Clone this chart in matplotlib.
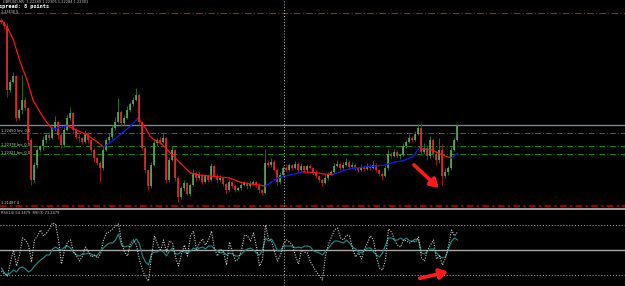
import numpy as np
import matplotlib
matplotlib.use("Agg")
import matplotlib.pyplot as plt

# candle closes (open = previous close), price units
first_open = 1.2334
closes = [1.2332, 1.2328, 1.2264, 1.2272, 1.2278, 1.2236, 1.2244, 1.2254, 1.2246, 1.2214,
          1.2174, 1.2189, 1.2204, 1.2208, 1.2214, 1.2219, 1.2216, 1.2226, 1.2232, 1.2219,
          1.2209, 1.2224, 1.2236, 1.2241, 1.2224, 1.2217, 1.2216, 1.2212, 1.2220, 1.2214,
          1.2204, 1.2196, 1.2191, 1.2186, 1.2204, 1.2214, 1.2217, 1.2226, 1.2232, 1.2242,
          1.2231, 1.2236, 1.2244, 1.2250, 1.2254, 1.2259, 1.2232, 1.2206, 1.2184, 1.2168,
          1.2189, 1.2211, 1.2214, 1.2212, 1.2216, 1.2174, 1.2194, 1.2204, 1.2176, 1.2157,
          1.2166, 1.2171, 1.2160, 1.2169, 1.2181, 1.2176, 1.2179, 1.2172, 1.2178, 1.2174,
          1.2188, 1.2178, 1.2174, 1.2176, 1.2170, 1.2164, 1.2172, 1.2168, 1.2164, 1.2166,
          1.2169, 1.2171, 1.2168, 1.2170, 1.2172, 1.2169, 1.2164, 1.2161, 1.2191, 1.2189,
          1.2192, 1.2184, 1.2172, 1.2179, 1.2186, 1.2184, 1.2189, 1.2186, 1.2190, 1.2184,
          1.2188, 1.2184, 1.2188, 1.2186, 1.2182, 1.2178, 1.2174, 1.2171, 1.2176, 1.2180,
          1.2182, 1.2188, 1.2190, 1.2186, 1.2189, 1.2192, 1.2187, 1.2189, 1.2186, 1.2184,
          1.2187, 1.2185, 1.2188, 1.2186, 1.2189, 1.2184, 1.2180, 1.2178, 1.2186, 1.2200,
          1.2198, 1.2202, 1.2198, 1.2199, 1.2208, 1.2212, 1.2216, 1.2214, 1.2220, 1.2226,
          1.2202, 1.2206, 1.2198, 1.2214, 1.2200, 1.2194, 1.2204, 1.2178, 1.2182, 1.2186,
          1.2204, 1.2214, 1.2228]
# wick length beyond the body, in pips
wick_up = [2, 1, 3, 2, 4, 1, 2, 25, 3, 1,
           2, 3, 2, 1, 4, 2, 3, 2, 6, 1,
           2, 3, 4, 6, 1, 2, 3, 1, 4, 2,
           1, 2, 1, 2, 3, 2, 4, 3, 5, 14,
           2, 3, 4, 2, 3, 7, 2, 1, 2, 1,
           3, 4, 2, 3, 5, 1, 3, 4, 1, 2,
           2, 3, 1, 2, 4, 2, 3, 1, 2, 2,
           3, 1, 2, 3, 1, 2, 2, 1, 2, 1,
           2, 2, 1, 3, 2, 1, 2, 1, 14, 3,
           4, 2, 1, 3, 2, 4, 2, 1, 3, 2,
           3, 1, 2, 2, 1, 2, 1, 2, 3, 2,
           2, 3, 4, 2, 3, 4, 2, 3, 2, 1,
           3, 2, 3, 2, 4, 2, 1, 2, 3, 5,
           2, 3, 2, 1, 3, 2, 4, 2, 3, 4,
           6, 5, 3, 4, 2, 3, 12, 6, 4, 2,
           3, 2, 2]
wick_dn = [2, 3, 7, 2, 1, 3, 2, 4, 2, 3,
           5, 2, 3, 2, 4, 3, 2, 1, 3, 4,
           3, 2, 1, 2, 3, 2, 4, 2, 1, 3,
           2, 3, 2, 14, 2, 1, 3, 2, 2, 1,
           3, 2, 1, 2, 2, 1, 3, 2, 3, 4,
           2, 1, 3, 2, 1, 3, 2, 1, 3, 5,
           2, 3, 1, 2, 1, 3, 2, 2, 1, 2,
           1, 2, 3, 1, 2, 3, 1, 2, 2, 1,
           2, 1, 3, 2, 1, 2, 3, 2, 1, 2,
           2, 1, 3, 2, 1, 2, 1, 2, 1, 2,
           1, 2, 2, 1, 3, 2, 2, 3, 1, 2,
           1, 2, 1, 2, 2, 1, 2, 1, 2, 2,
           1, 2, 1, 2, 1, 2, 2, 4, 1, 2,
           2, 1, 2, 3, 1, 2, 1, 2, 1, 1,
           3, 2, 4, 2, 3, 5, 3, 9, 2, 3,
           2, 1, 1]

# moving average (bar index, price)
ma_bar = [0, 2, 4, 6, 8.5, 10.5, 13, 15, 17, 19.5, 22, 25, 28.5, 32, 34, 36, 39.5, 43, 45.5,
          48, 49.5, 51, 53, 56, 59.5, 63, 66, 69.5, 73, 76, 79.5, 83, 86, 88, 92, 96, 100.5,
          104.5, 107.5, 110.5, 114.5, 118, 124.5, 128, 131, 133.5, 137, 139.5, 140, 143.5,
          147, 150, 152]
ma_val = [1.2334, 1.2326, 1.2314, 1.2294, 1.2274, 1.2254, 1.2241, 1.2232, 1.2225, 1.22265,
          1.2228, 1.2224, 1.2219, 1.2212, 1.2207, 1.2211, 1.2219, 1.2228, 1.2236, 1.2226,
          1.2218, 1.2214, 1.2211, 1.2202, 1.2191, 1.2181, 1.2179, 1.2178, 1.2177, 1.2176,
          1.2172, 1.2170, 1.2169, 1.2168, 1.2176, 1.2179, 1.2182, 1.21815, 1.2180, 1.21795,
          1.2184, 1.2186, 1.2188, 1.2189, 1.2192, 1.2193, 1.2197, 1.2207, 1.2205, 1.2204,
          1.2199, 1.2196, 1.2201]

# oscillators, one value per bar
rsi_fast = [29, 26, 24, 38, 50, 34, 45, 62, 60, 55, 38, 60, 64, 70, 64, 67, 71, 77, 76, 60,
            36, 50, 58, 60, 48, 44, 39, 44, 53, 48, 43, 45, 42, 46, 60, 67, 68, 71, 74, 76,
            58, 48, 44, 57, 60, 55, 40, 30, 23, 19, 44, 64, 56, 49, 60, 48, 59, 57, 43, 34,
            46, 55, 44, 64, 69, 50, 57, 61, 55, 60, 69, 51, 44, 51, 48, 35, 58, 48, 39, 41,
            50, 65, 64, 59, 67, 53, 34, 40, 75, 61, 59, 48, 39, 45, 56, 60, 58, 55, 44, 36,
            50, 48, 47, 38, 33, 28, 24, 20, 44, 56, 63, 70, 72, 62, 60, 65, 64, 52, 43, 47,
            41, 51, 57, 64, 60, 43, 32, 30, 40, 71, 68, 60, 55, 53, 60, 59, 57, 59, 58, 63,
            42, 39, 50, 55, 60, 41, 44, 35, 42, 54, 70, 64, 68]
rsi_slow = [32, 27, 25, 27, 30, 28, 32, 33, 31, 28, 30, 34, 37, 40, 42, 45, 45, 51, 53, 51,
            50, 53, 54, 52, 48, 45, 44, 46, 46, 47, 46, 44, 45, 49, 52, 55, 57, 57, 60, 66,
            55, 53, 54, 53, 58, 61, 56, 44, 38, 35, 46, 48, 48, 50, 48, 44, 49, 52, 46, 46,
            49, 48, 47, 49, 52, 50, 52, 53, 51, 54, 54, 51, 49, 47, 48, 45, 47, 46, 44, 44,
            46, 49, 51, 52, 50, 47, 45, 50, 62, 59, 61, 56, 49, 49, 54, 54, 54, 54, 52, 53,
            52, 54, 54, 53, 49, 48, 47, 45, 49, 52, 56, 59, 59, 58, 57, 60, 57, 53, 51, 48,
            47, 50, 52, 52, 48, 45, 43, 47, 55, 62, 62, 60, 60, 62, 60, 62, 59, 59, 61, 60,
            47, 46, 49, 51, 51, 47, 44, 42, 43, 51, 59, 62, 60]

levels_main = {"top": 1.2341, "gray": 1.22295, "g1": 1.22207, "g2": 1.2208, "g3": 1.21997,
               "bottom": 1.21483}
rsi_levels = [75, 50, 25]
vline_bar = 94.2
arrow_main = [(136.8, 1.2191), (146.5, 1.2164)]
arrow_ind = [(138.5, 21), (149.8, 29)]

W, H = 625, 286
fig = plt.figure(figsize=(W / 100, H / 100), dpi=100, facecolor="black")
ax = fig.add_axes([0, 77 / H, 1, 209 / H], facecolor="black")
ax2 = fig.add_axes([0, 0, 1, 76 / H], facecolor="black")

n = len(closes)
x = np.arange(n)
c = np.array(closes)
o = np.concatenate([[first_open], c[:-1]])
hi = np.maximum(o, c) + np.array(wick_up) * 0.0001
lo = np.minimum(o, c) - np.array(wick_dn) * 0.0001
bull = c >= o

# horizontal levels
ax.axhline(levels_main["top"], color="#d01010", lw=0.8, ls=(0, (6, 2, 1, 2)))
ax.axhline(levels_main["bottom"], color="#9b0000", lw=1.6, ls=(0, (3, 1.5, 1, 1.5)))
ax.axhline(levels_main["gray"], color="#7a8896", lw=1.0)
for k in ["g1", "g2", "g3"]:
    ax.axhline(levels_main[k], color="#0a8a0a", lw=0.7, ls=(0, (6, 2, 1, 2)))

# candles
ax.vlines(x[bull], lo[bull], hi[bull], color="#1f6e1f", lw=0.7)
ax.vlines(x[~bull], lo[~bull], hi[~bull], color="#a01414", lw=0.7)
body_lo = np.minimum(o, c)
body_hi = np.maximum(np.maximum(o, c), body_lo + 0.00008)
ax.vlines(x[bull], body_lo[bull], body_hi[bull], color="#5cb85c", lw=1.1)
ax.vlines(x[~bull], body_lo[~bull], body_hi[~bull], color="#ff2a2a", lw=1.1)

# moving average, blue when rising
for i in range(len(ma_bar) - 1):
    col = "#0a1aff" if ma_val[i + 1] > ma_val[i] else "#ff1010"
    ax.plot(ma_bar[i:i + 2], ma_val[i:i + 2], color=col, lw=0.9, solid_capstyle="round")

# oscillator panel
ax2.axhline(rsi_levels[0], color="#b4b4b4", lw=0.7, ls=(0, (1, 2)))
ax2.axhline(rsi_levels[1], color="#a8a8a8", lw=1.0)
ax2.axhline(rsi_levels[2], color="#b4b4b4", lw=0.7, ls=(0, (1, 2)))
ax2.plot(x, rsi_slow, color="#1f8c8c", lw=0.8)
ax2.plot(x, rsi_fast, color="#d0d0d0", lw=0.8, ls=(0, (1, 1.3)))

for a in (ax, ax2):
    a.axvline(vline_bar, color="#c8c8c8", lw=0.7, ls=(0, (1, 2)))
    a.set_xlim(-0.5, (W - 1.5) / 3)
    a.set_xticks([])
    a.set_yticks([])
    for s in a.spines.values():
        s.set_visible(False)
ax.set_ylim(1.2145, 1.2354)
ax2.set_ylim(14, 90)
ax.spines["bottom"].set_visible(True)
ax.spines["bottom"].set_color("#a0a0a0")
ax.spines["bottom"].set_linewidth(1.4)

# arrows
ax.annotate("", xy=arrow_main[1], xytext=arrow_main[0],
            arrowprops=dict(arrowstyle="-|>,head_length=0.5,head_width=0.3", color="#ff1a1a", lw=2.6))
ax2.annotate("", xy=arrow_ind[1], xytext=arrow_ind[0],
             arrowprops=dict(arrowstyle="-|>,head_length=0.5,head_width=0.3", color="#ff1a1a", lw=2.6),
             annotation_clip=False)

# texts
def ftext(px, py, s, **kw):
    fig.text(px / W, 1 - py / H, s, va="center", ha="left", **kw)

ftext(3, 2, "GBPUSD,M5  1.22289 1.22305 1.22284 1.22301", color="#c8c8c8", fontsize=2.5)
ftext(-1, 6.5, "spread: 8 points", color="white", fontsize=3.8, fontweight="bold",
      family="DejaVu Sans Mono")
ftext(1, 11.8, "1.23430 5", color="#d0d0d0", fontsize=2.4)
ftext(1, 131.5, "1.22450 lev: 0.0", color="#d0d0d0", fontsize=2.6)
ftext(1, 145, "1.22378 lev: 0.0", color="#d0d0d0", fontsize=2.6)
ftext(1, 152.5, "1.22321 lev: 0.0", color="#d0d0d0", fontsize=2.6)
ftext(1, 203, "1.21487 4", color="#d0d0d0", fontsize=2.6)
ftext(1, 213, "RSI(14) 54.3479  RSI(3) 73.2479", color="#c8c8c8", fontsize=2.6)

fig.savefig("out.png", dpi=100, facecolor="black")
